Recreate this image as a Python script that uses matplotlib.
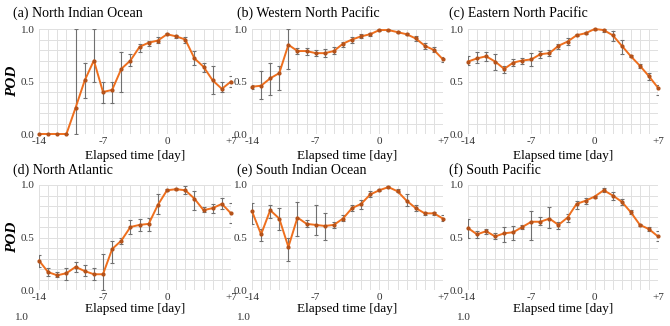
import matplotlib
matplotlib.use("Agg")
import matplotlib.pyplot as plt
import numpy as np

plt.rcParams['font.family'] = ['Liberation Serif', 'DejaVu Serif']

days = list(range(-14, 8))
xtick_pos = [-14, -7, 0, 7]
xtick_labels = ['-14', '-7', '0', '+7']
ytick_pos = [0.0, 0.5, 1.0]
ytick_labels = ['0.0', '0.5', '1.0']

titles = ['(a) North Indian Ocean', '(b) Western North Pacific', '(c) Eastern North Pacific',
          '(d) North Atlantic', '(e) South Indian Ocean', '(f) South Pacific']

a_mean = [0, 0, 0, 0, 0.25, 0.51, 0.70, 0.40, 0.42, 0.62, 0.70, 0.83, 0.87, 0.89, 0.95, 0.93, 0.90, 0.72, 0.64, 0.51, 0.43, 0.50]
a_lo   = [0, 0, 0, 0, 0.00, 0.34, 0.50, 0.30, 0.30, 0.40, 0.65, 0.78, 0.84, 0.87, 0.94, 0.91, 0.87, 0.66, 0.59, 0.38, 0.40, 0.45]
a_hi   = [0, 0, 0, 0, 1.00, 0.68, 1.00, 0.50, 0.50, 0.78, 0.76, 0.86, 0.89, 0.92, 0.96, 0.94, 0.92, 0.79, 0.68, 0.65, 0.50, 0.55]

b_mean = [0.45, 0.46, 0.53, 0.58, 0.85, 0.79, 0.79, 0.77, 0.77, 0.79, 0.86, 0.90, 0.93, 0.95, 0.99, 0.99, 0.97, 0.95, 0.91, 0.84, 0.80, 0.71]
b_lo   = [0.43, 0.33, 0.37, 0.42, 0.62, 0.76, 0.75, 0.74, 0.73, 0.76, 0.83, 0.87, 0.91, 0.93, 0.98, 0.98, 0.96, 0.94, 0.89, 0.81, 0.78, 0.69]
b_hi   = [0.47, 0.60, 0.68, 0.65, 1.00, 0.82, 0.82, 0.80, 0.81, 0.83, 0.88, 0.92, 0.95, 0.96, 1.00, 1.00, 0.98, 0.96, 0.93, 0.87, 0.83, 0.73]

c_mean = [0.69, 0.72, 0.74, 0.69, 0.62, 0.68, 0.70, 0.71, 0.76, 0.77, 0.84, 0.88, 0.94, 0.96, 1.00, 0.99, 0.94, 0.84, 0.74, 0.65, 0.55, 0.44]
c_lo   = [0.66, 0.68, 0.70, 0.61, 0.58, 0.65, 0.67, 0.65, 0.72, 0.74, 0.81, 0.85, 0.93, 0.95, 0.99, 0.97, 0.89, 0.76, 0.73, 0.63, 0.51, 0.37]
c_hi   = [0.74, 0.78, 0.78, 0.76, 0.65, 0.71, 0.72, 0.77, 0.79, 0.80, 0.86, 0.91, 0.95, 0.97, 1.00, 1.00, 0.98, 0.90, 0.75, 0.67, 0.58, 0.47]

d_mean = [0.28, 0.17, 0.14, 0.16, 0.22, 0.18, 0.15, 0.15, 0.39, 0.47, 0.60, 0.62, 0.63, 0.81, 0.95, 0.96, 0.95, 0.87, 0.76, 0.78, 0.82, 0.73]
d_lo   = [0.22, 0.13, 0.12, 0.10, 0.17, 0.13, 0.10, 0.00, 0.26, 0.44, 0.53, 0.56, 0.56, 0.72, 0.94, 0.95, 0.91, 0.76, 0.74, 0.73, 0.77, 0.64]
d_hi   = [0.33, 0.21, 0.17, 0.21, 0.27, 0.24, 0.21, 0.34, 0.47, 0.50, 0.67, 0.68, 0.69, 0.91, 0.96, 0.97, 0.99, 0.94, 0.79, 0.82, 0.88, 0.83]

e_mean = [0.75, 0.53, 0.76, 0.68, 0.41, 0.69, 0.63, 0.62, 0.61, 0.62, 0.68, 0.78, 0.82, 0.91, 0.95, 0.98, 0.94, 0.85, 0.78, 0.73, 0.73, 0.68]
e_lo   = [0.63, 0.47, 0.69, 0.57, 0.28, 0.51, 0.60, 0.52, 0.48, 0.59, 0.66, 0.75, 0.77, 0.89, 0.94, 0.97, 0.93, 0.80, 0.75, 0.71, 0.71, 0.66]
e_hi   = [0.83, 0.58, 0.81, 0.78, 0.50, 0.84, 0.67, 0.81, 0.73, 0.65, 0.71, 0.81, 0.86, 0.94, 0.96, 0.99, 0.96, 0.91, 0.81, 0.74, 0.74, 0.71]

f_mean = [0.59, 0.53, 0.56, 0.51, 0.54, 0.55, 0.60, 0.65, 0.65, 0.68, 0.62, 0.69, 0.82, 0.85, 0.89, 0.95, 0.90, 0.84, 0.74, 0.62, 0.58, 0.51]
f_lo   = [0.50, 0.50, 0.53, 0.49, 0.46, 0.48, 0.58, 0.48, 0.62, 0.59, 0.58, 0.65, 0.77, 0.82, 0.88, 0.93, 0.86, 0.81, 0.72, 0.61, 0.56, 0.47]
f_hi   = [0.68, 0.56, 0.58, 0.54, 0.60, 0.61, 0.62, 0.75, 0.70, 0.79, 0.65, 0.72, 0.85, 0.88, 0.90, 0.97, 0.93, 0.87, 0.76, 0.63, 0.60, 0.56]

series = [(a_mean, a_lo, a_hi), (b_mean, b_lo, b_hi), (c_mean, c_lo, c_hi),
          (d_mean, d_lo, d_hi), (e_mean, e_lo, e_hi), (f_mean, f_lo, f_hi)]

W, H = 670, 326
fig = plt.figure(figsize=(W / 100, H / 100), dpi=100)

lefts = [39, 252, 468]
rights = [231, 443, 658]
row_top = [29, 185]
row_bot = [134, 290]
title_x = [13, 237, 449]
title_y = [13, 170]
xlabel_y = [156, 309]

LINE = '#EE6F1E'
ERR = '#707070'

for i, (m, lo, hi) in enumerate(series):
    r, c = divmod(i, 3)
    l, rt = lefts[c], rights[c]
    t, b = row_top[r], row_bot[r]
    ax = fig.add_axes([l / W, 1 - b / H, (rt - l) / W, (b - t) / H])
    m = np.array(m); lo = np.array(lo); hi = np.array(hi)
    yerr = np.vstack([m - lo, hi - m])
    ax.errorbar(days, m, yerr=yerr, fmt='none', ecolor=ERR, elinewidth=0.8,
                capsize=1.6, capthick=0.8, zorder=2)
    ax.plot(days, m, color=LINE, lw=1.4, marker='o', ms=2.0,
            mfc='#B4521A', mec='#B4521A', zorder=3, clip_on=False)
    ax.set_xlim(-14, 7)
    ax.set_ylim(0, 1)
    ax.set_xticks(range(-14, 8), minor=True)
    ax.set_yticks(np.arange(0, 1.01, 0.1), minor=True)
    ax.set_xticks(xtick_pos)
    ax.set_xticklabels(xtick_labels)
    ax.set_yticks(ytick_pos)
    ax.set_yticklabels(ytick_labels)
    ax.grid(True, which='both', color='#e0e0e0', lw=0.7)
    ax.set_axisbelow(True)
    for s in ax.spines.values():
        s.set_visible(False)
    ax.tick_params(which='both', length=0, labelsize=8, pad=2, labelcolor='#333333')
    ax.tick_params(axis='y', pad=3)
    fig.text(title_x[c] / W, 1 - title_y[r] / H, titles[i], fontsize=10,
             ha='left', va='center')
    fig.text((l + rt) / 2 / W, 1 - xlabel_y[r] / H, 'Elapsed time [day]',
             fontsize=9.5, ha='center', va='center')
    if c == 0:
        fig.text(13 / W, 1 - ((t + b) / 2) / H, 'POD', fontsize=11, fontstyle='italic',
                 fontweight='bold', rotation=90, ha='center', va='center')

for x in [15, 237, 457]:
    fig.text(x / W, 1 - 318 / H, '1.0', fontsize=8, ha='left', va='center', color='#333333')

fig.savefig('out.png', dpi=100)
